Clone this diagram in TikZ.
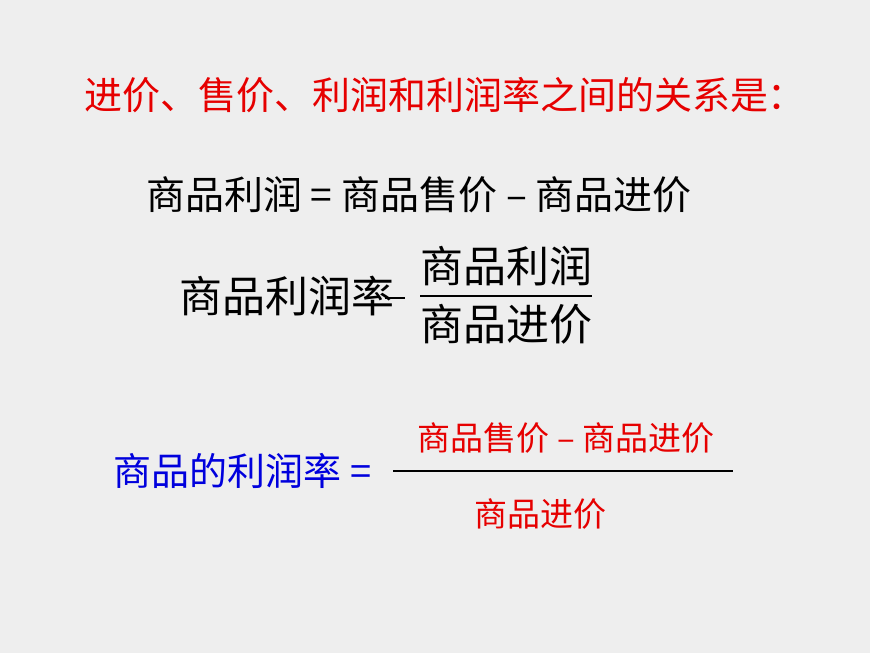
\documentclass[tikz,border=0pt]{standalone}
\usepackage{fontspec}
\newfontfamily\cjk{Noto Sans CJK SC}
\setmainfont{Liberation Sans}
\definecolor{bgray}{HTML}{EEEEEE}
\definecolor{tred}{HTML}{E60000}
\definecolor{tblue}{HTML}{0000DD}
\begin{document}
\begin{tikzpicture}[x=1pt,y=-1pt]
  \tikzstyle{titlestyle} = [text=tred,font=\cjk\fontsize{38}{42}\selectfont]
  \tikzstyle{rowstyle} = [font=\cjk\fontsize{39}{42}\selectfont]
  \tikzstyle{fracstyle} = [font=\cjk\fontsize{43}{46}\selectfont,inner sep=1pt]
  \tikzstyle{smallstyle} = [text=tred,font=\cjk\fontsize{33}{36}\selectfont,inner sep=1pt]
  \fill[bgray] (0,0) rectangle (870,653);
  \node[titlestyle] (title) at (445,95) {进价、售价、利润和利润率之间的关系是：};
  \node[rowstyle] (profit) at (419,195) {商品利润 = 商品售价 – 商品进价};
  \node[fracstyle,anchor=east] (rate) at (396,296) {商品利润率};
  \node[fracstyle] (num) at (506,266) {商品利润};
  \node[fracstyle] (den) at (506,324) {商品进价};
  \draw[line width=1.2pt] (385,298)--(405,298);
  \draw[line width=1.2pt] (420,296)--(592,296);
  \node[text=tblue,font=\cjk\fontsize{38}{42}\selectfont,anchor=west] (brate) at (110,471) {商品的利润率 =};
  \node[smallstyle] (bnum) at (566,438) {商品售价 – 商品进价};
  \node[smallstyle] (bden) at (540,514) {商品进价};
  \draw[line width=2pt] (393,471)--(733,471);
\end{tikzpicture}
\end{document}
